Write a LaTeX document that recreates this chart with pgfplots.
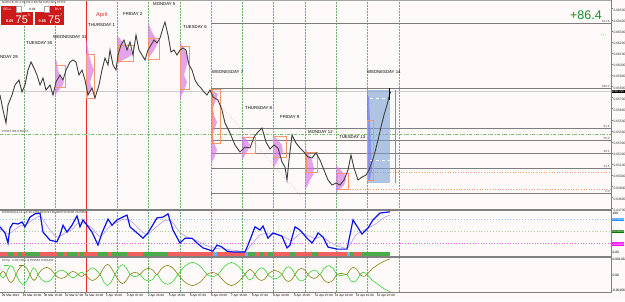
\documentclass[border=0pt]{standalone}
\usepackage{pgfplots}
\pgfplotsset{compat=1.18}
\usepackage{fontspec}
\setmainfont{Liberation Sans}
\definecolor{bg}{RGB}{255,250,250}
\definecolor{sepc}{RGB}{110,175,110}
\definecolor{pricec}{RGB}{65,65,65}
\definecolor{fibc}{RGB}{125,125,125}
\definecolor{boxc}{RGB}{245,150,110}
\definecolor{profc}{RGB}{215,115,228}
\definecolor{olivec}{RGB}{130,130,10}
\definecolor{greenc}{RGB}{50,210,50}
\definecolor{rsib}{RGB}{10,20,235}
\definecolor{rsis}{RGB}{185,155,230}
\definecolor{barr}{RGB}{242,95,95}
\definecolor{barg}{RGB}{75,170,75}
\definecolor{barb}{RGB}{110,175,240}
\definecolor{lvlb}{RGB}{150,195,250}
\definecolor{lvlg}{RGB}{160,205,150}
\definecolor{lvlm}{RGB}{235,100,235}
\definecolor{pivc}{RGB}{120,190,100}
\definecolor{orgd}{RGB}{245,155,110}
\definecolor{btnred}{RGB}{205,25,25}
\definecolor{bigg}{RGB}{25,140,40}
\definecolor{wedblue}{RGB}{120,160,210}
\definecolor{aprred}{RGB}{240,40,40}
\definecolor{boxblue}{RGB}{30,144,255}
\definecolor{boxgreen}{RGB}{0,120,0}
\definecolor{boxmag}{RGB}{255,0,255}
\definecolor{dcol}{RGB}{170,215,150}
\newcommand{\tf}{\fontsize{3.3}{3.8}\selectfont}
\newcommand{\df}{\fontsize{4.3}{5}\selectfont}
\newcommand{\xf}{\fontsize{3.1}{3.6}\selectfont}
\newcommand{\seg}[3]{\addplot[fill=#1, draw=none] coordinates {(#2,-9.5) (#3,-9.5) (#3,-0.5) (#2,-0.5)};}
\newcommand{\bx}[4]{\addplot[boxc, line width=0.6pt] coordinates {(#1,#2) (#3,#2) (#3,#4) (#1,#4) (#1,#2)};}
\begin{document}
\begin{tikzpicture}
\useasboundingbox (0pt,0pt) rectangle (625pt,-301pt);
\begin{scope}[x=1pt,y=1pt]
\fill[bg] (0,0) rectangle (625,-301);
\foreach \xx in {24,55,117,148,180,211,242,273,305,336,367,399} {\draw[sepc, densely dotted, line width=0.5pt] (\xx,0) -- (\xx,-292);}
\draw[aprred, line width=0.6pt] (86,0) -- (86,-292);
\end{scope}

% ================= MAIN PRICE PANEL =================
\begin{axis}[at={(0pt,0pt)}, anchor=north west, scale only axis, width=611pt, height=209pt,
  xmin=0, xmax=611, ymin=64697, ymax=66578, clip=false,
  axis line style={draw=none}, xtick=\empty,
  ytick={64700,64800,64900,65000,65100,65200,65300,65400,65500,65600,65700,65800,65900,66000,66100,66200,66300,66400,66500},
  yticklabels={0.64700,0.64800,0.64900,0.65000,0.65100,0.65200,0.65300,0.65400,0.65500,0.65600,0.65700,0.65800,0.65900,0.66000,0.66100,0.66200,0.66300,0.66400,0.66500},
  ytick pos=right, yticklabel pos=right, tick align=outside, major tick length=2pt,
  tick style={gray, line width=0.4pt},
  yticklabel style={font=\tf, inner sep=0.3pt, yshift=-1.5pt, text=black!80}]

\addplot[black!20, line width=0.5pt] coordinates {(0,65755) (611,65755)};
\addplot[pivc, line width=0.8pt, dash pattern=on 3pt off 1.5pt on 1pt off 1.5pt] coordinates {(0,65372) (611,65372)};
\addplot[fibc, line width=0.6pt] coordinates {(211,66371) (611,66371)};
\addplot[fibc, line width=0.6pt] coordinates {(211,65786) (611,65786)};
\addplot[fibc, line width=0.6pt] coordinates {(211,65426) (611,65426)};
\addplot[fibc, line width=0.6pt] coordinates {(211,65318) (611,65318)};
\addplot[fibc, line width=0.6pt] coordinates {(211,65201) (611,65201)};
\addplot[fibc, line width=0.6pt] coordinates {(211,65066) (611,65066)};
\addplot[fibc, line width=0.6pt] coordinates {(211,64841) (611,64841)};
\addplot[orgd, dotted, line width=0.6pt] coordinates {(367,65030) (611,65030)};
\addplot[orgd, dotted, line width=0.6pt] coordinates {(347,64877) (611,64877)};
\addplot[red!50, dotted, line width=0.5pt] coordinates {(213,65705) (300,64823)};

\addplot[fill=wedblue, fill opacity=0.6, draw=none] coordinates {(367,65768) (390,65768) (390,64931) (367,64931)};
\addplot[fill=blue!60, fill opacity=0.5, draw=none] coordinates {(367,65740) (369,65700) (370,65498) (371,65228) (372,65048) (370,64958) (367,64940)};
\addplot[white, dashed, line width=0.4pt] coordinates {(370,65696) (390,65696)};
\addplot[white, dashed, line width=0.4pt] coordinates {(370,65138) (390,65138)};
\addplot[greenc, line width=1pt] coordinates {(395,65768) (395,64931)};

\addplot[fill=profc, fill opacity=0.65, draw=none] coordinates {(55,66056) (57,66020) (58,65948) (61,65876) (64,65840) (62,65804) (59,65768) (56,65732) (55,65714)};
\addplot[fill=profc, fill opacity=0.65, draw=none] coordinates {(86,66218) (88,66146) (89,66083) (91,66020) (94,65948) (92,65894) (90,65840) (92,65786) (89,65741) (87,65696) (86,65678)};
\addplot[fill=profc, fill opacity=0.65, draw=none] coordinates {(117,66263) (121,66218) (126,66173) (131,66128) (132,66083) (127,66056) (121,66029) (117,66002)};
\addplot[fill=profc, fill opacity=0.65, draw=none] coordinates {(148,66380) (150,66335) (152,66290) (155,66245) (158,66200) (156,66155) (153,66110) (150,66074) (148,66038)};
\addplot[fill=profc, fill opacity=0.65, draw=none] coordinates {(180,66200) (183,66155) (186,66110) (188,66038) (186,65966) (184,65903) (187,65840) (185,65786) (182,65732) (180,65678)};
\addplot[fill=profc, fill opacity=0.65, draw=none] coordinates {(211,65768) (218,65732) (216,65678) (213,65606) (214,65543) (217,65480) (215,65426) (213,65363) (214,65300) (217,65228) (215,65174) (212,65120) (211,65093)};
\addplot[fill=profc, fill opacity=0.65, draw=none] coordinates {(242,65363) (247,65318) (250,65273) (248,65228) (245,65183) (242,65138)};
\addplot[fill=profc, fill opacity=0.65, draw=none] coordinates {(273,65363) (278,65318) (282,65273) (283,65210) (279,65156) (276,65102) (273,65066)};
\addplot[fill=profc, fill opacity=0.65, draw=none] coordinates {(305,65246) (309,65183) (312,65138) (314,65066) (313,65003) (310,64958) (308,64913) (305,64868)};
\addplot[fill=profc, fill opacity=0.65, draw=none] coordinates {(336,65093) (341,65048) (345,65003) (346,64958) (344,64913) (340,64877) (336,64850)};

\bx{55}{65993}{65}{65795}
\bx{86}{66092}{94}{65696}
\bx{118}{66173}{133}{66029}
\bx{148}{66236}{159}{66047}
\bx{180}{66164}{189}{65777}
\bx{212}{65777}{220}{65291}
\bx{243}{65345}{255}{65201}
\bx{273}{65354}{286}{65165}
\bx{306}{65210}{317}{65030}
\bx{337}{65021}{348}{64877}
\bx{367}{65498}{373}{64958}

\addplot[pricec, line width=0.9pt] coordinates {
(0,65723) (3,65588) (6,65471) (8,65633) (12,65723) (15,65813) (19,65858) (22,65750) (25,65813) (28,65948)
(31,66020) (34,65966) (37,65903) (40,65813) (43,65876) (46,65768) (50,65813) (53,65723) (56,65840) (60,65903)
(63,65858) (66,65948) (70,66020) (73,66038) (76,66020) (79,65903) (82,65948) (85,65858) (88,65723) (92,65786)
(95,65696) (99,65813) (102,65948) (105,66056) (108,65993) (110,66128) (113,65993) (116,65948) (118,66083) (121,66173)
(124,66218) (127,66128) (130,66200) (133,66083) (136,66263) (139,66128) (142,66083) (145,66038) (148,66128) (151,66173)
(154,66218) (157,66191) (160,66236) (163,66326) (165,66380) (168,66263) (171,66110) (174,66128) (177,66083) (180,66128)
(183,66146) (186,66128) (189,65993) (192,65948) (195,65858) (198,65813) (201,65786) (204,65750) (207,65723) (210,65768)
(213,65705) (218,65678) (222,65588) (225,65471) (230,65381) (235,65273) (240,65210) (245,65255) (250,65246) (254,65345)
(258,65390) (262,65426) (266,65300) (270,65237) (274,65273) (278,65246) (282,65120) (285,65075) (287,64958) (289,65138)
(292,65363) (296,65291) (300,65246) (304,65210) (308,65165) (312,65156) (316,65201) (320,65138) (324,65048) (328,64958)
(332,64913) (336,64931) (340,64913) (344,64958) (348,65048) (351,65183) (354,65066) (358,64958) (362,64985) (366,65003)
(369,65048) (372,65120) (375,65210) (378,65318) (381,65435) (384,65543) (387,65633) (390,65741) (391,65750)};
\addplot[black, line width=0.6pt] coordinates {(389,65786) (389,65678)};

\node[anchor=west, font=\df, inner sep=0pt] at (axis cs:-7,66065) {MONDAY 29};
\node[anchor=west, font=\df, inner sep=0pt] at (axis cs:26,66191) {TUESDAY 30};
\node[anchor=west, font=\df, inner sep=0pt] at (axis cs:53,66245) {WEDNESDAY 31};
\node[anchor=west, font=\df, inner sep=0pt] at (axis cs:88,66353) {THURSDAY 1};
\node[anchor=west, font=\fontsize{5.6}{6}\selectfont, text=aprred, inner sep=0pt] at (axis cs:96,66443) {April};
\node[anchor=west, font=\df, inner sep=0pt] at (axis cs:123,66452) {FRIDAY 2};
\node[anchor=west, font=\df, inner sep=0pt] at (axis cs:153,66542) {MONDAY 5};
\node[anchor=west, font=\df, inner sep=0pt] at (axis cs:183,66335) {TUESDAY 6};
\node[anchor=west, font=\df, inner sep=0pt] at (axis cs:212,65930) {WEDNESDAY 7};
\node[anchor=west, font=\df, inner sep=0pt] at (axis cs:245,65606) {THURSDAY 8};
\node[anchor=west, font=\df, inner sep=0pt] at (axis cs:280,65525) {FRIDAY 9};
\node[anchor=west, font=\df, inner sep=0pt] at (axis cs:308,65390) {MONDAY 12};
\node[anchor=west, font=\df, inner sep=0pt] at (axis cs:339,65345) {TUESDAY 13};
\node[anchor=west, font=\df, inner sep=0pt] at (axis cs:367,65930) {WEDNESDAY 14};
\node[anchor=west, font=\fontsize{3}{3.5}\selectfont, inner sep=0pt, text=black!80] at (axis cs:2,65395) {PIVOT W1 0.65372};

\node[anchor=south east, font=\fontsize{3}{3.5}\selectfont, inner sep=0.3pt, text=black!70] at (axis cs:610,66371) {161.8};
\node[anchor=south east, font=\fontsize{3}{3.5}\selectfont, inner sep=0.3pt, text=black!70] at (axis cs:610,65786) {100.0};
\node[anchor=south east, font=\fontsize{3}{3.5}\selectfont, inner sep=0.3pt, text=black!70] at (axis cs:610,65426) {61.8};
\node[anchor=south east, font=\fontsize{3}{3.5}\selectfont, inner sep=0.3pt, text=black!70] at (axis cs:610,65318) {50.0};
\node[anchor=south east, font=\fontsize{3}{3.5}\selectfont, inner sep=0.3pt, text=black!70] at (axis cs:610,65201) {38.2};
\node[anchor=south east, font=\fontsize{3}{3.5}\selectfont, inner sep=0.3pt, text=black!70] at (axis cs:610,65066) {23.6};
\node[anchor=south east, font=\fontsize{3}{3.5}\selectfont, inner sep=0.3pt, text=black!70] at (axis cs:610,64841) {0.0};

\node[anchor=base east, font=\fontsize{12.5}{14}\selectfont, text=bigg, inner sep=0pt] at (axis cs:602,66407) {+86.4};
\node[anchor=center, font=\fontsize{4}{5}\selectfont, text=dcol, inner sep=0pt] at (axis cs:604,66263) {D1};
\end{axis}

% ================= RSI PANEL =================
\begin{axis}[at={(0pt,-211pt)}, anchor=north west, scale only axis, width=611pt, height=45pt,
  xmin=0, xmax=611, ymin=-10, ymax=101, clip=false,
  axis line style={draw=none}, xtick=\empty, ytick=\empty]
\addplot[lvlb, dotted, line width=0.9pt] coordinates {(0,80) (611,80)};
\addplot[lvlg, dotted, line width=0.9pt] coordinates {(0,50) (611,50)};
\addplot[lvlm, dotted, line width=0.7pt] coordinates {(0,20) (611,20)};
\seg{barr}{0}{8}\seg{barg}{8}{13}\seg{barr}{13}{18}\seg{barg}{18}{22}\seg{barr}{22}{25}
\seg{barg}{25}{40}\seg{barr}{40}{57}\seg{barg}{57}{63}\seg{barr}{63}{67}\seg{barg}{67}{77}
\seg{barr}{77}{80}\seg{barg}{80}{83}\seg{barr}{83}{98}\seg{barg}{98}{108}\seg{barr}{108}{112}
\seg{barg}{112}{127}\seg{barr}{127}{143}\seg{barg}{143}{168}\seg{barr}{168}{213}\seg{barb}{213}{217}
\seg{barr}{217}{245}\seg{barb}{245}{248}\seg{barg}{248}{255}\seg{barr}{255}{260}\seg{barg}{260}{263}
\seg{barr}{263}{268}\seg{barg}{268}{273}\seg{barr}{273}{290}\seg{barg}{290}{295}\seg{barr}{295}{312}
\seg{barg}{312}{318}\seg{barr}{318}{347}\seg{barb}{347}{350}\seg{barg}{350}{353}\seg{barr}{353}{362}
\seg{barg}{362}{390}
\addplot[rsis, line width=0.6pt, smooth, tension=0.5] coordinates {
(0,57) (8,44) (13,52) (20,64) (25,66) (32,78) (40,88) (45,72) (52,48) (58,36) (65,47) (72,55) (78,71) (85,70)
(92,59) (100,38) (108,59) (115,71) (125,81) (132,74) (140,55) (147,43) (155,59) (165,78) (172,74) (180,48)
(188,36) (197,28) (205,17) (215,9) (225,7) (235,4) (245,2) (252,19) (260,42) (268,45) (276,43) (285,36)
(292,28) (300,45) (308,40) (316,33) (322,38) (330,24) (340,13) (348,11) (356,42) (365,55) (375,68) (383,83) (390,91)};
\addplot[rsib, line width=1.2pt] coordinates {
(0,62) (5,47) (8,22) (10,59) (13,71) (18,69) (22,74) (25,62) (30,86) (35,94) (40,96) (43,49) (50,29) (57,25)
(60,42) (63,66) (67,49) (72,66) (77,89) (80,62) (83,79) (87,66) (92,49) (98,17) (102,47) (108,81) (112,66)
(117,79) (127,91) (130,62) (137,47) (143,34) (148,47) (157,84) (163,86) (168,94) (173,54) (180,22) (185,34)
(192,34) (197,22) (203,10) (213,2) (217,17) (222,12) (227,2) (233,0) (245,0) (248,17) (255,62) (260,54)
(263,64) (268,34) (273,47) (282,39) (287,10) (290,17) (295,62) (300,54) (307,34) (312,22) (316,37) (318,47)
(323,37) (328,12) (337,7) (347,7) (350,42) (353,79) (362,44) (368,59) (373,79) (380,96) (390,99)};
\node[anchor=west, font=\fontsize{3}{3.5}\selectfont, inner sep=0pt, text=black!80] at (axis cs:2,97) {RSIOMA(14,14,14) 99.1362 90.8734 80.0000 50.0000 20.0000};
\end{axis}

% ================= CCFp PANEL =================
\begin{axis}[at={(0pt,-258pt)}, anchor=north west, scale only axis, width=611pt, height=34pt,
  xmin=0, xmax=611, ymin=-16, ymax=15, clip=false,
  axis line style={draw=none}, ytick=\empty,
  xtick={2,23,44,65,85,106,127,148,169,190,211,231,252,273,294,315,335,356,377},
  xticklabels={29 Mar 2021,29 Mar 23:00,30 Mar 15:00,31 Mar 07:00,31 Mar 23:00,1 Apr 15:00,2 Apr 07:00,2 Apr 23:00,5 Apr 15:00,6 Apr 07:00,6 Apr 23:00,7 Apr 15:00,8 Apr 07:00,8 Apr 23:00,9 Apr 15:00,12 Apr 07:00,12 Apr 23:00,13 Apr 15:00,14 Apr 07:00},
  xtick pos=left, tick align=outside, major tick length=1.5pt,
  tick style={gray, line width=0.4pt},
  xticklabel style={font=\xf, anchor=north west, inner sep=0.3pt, yshift=-0.6pt, xshift=-0.5pt}]
\addplot[greenc, line width=0.6pt, smooth, tension=0.5] coordinates {
(0,0) (1.5,-2.1) (3,-3) (4.5,-2.1) (6,0) (8.5,5.6) (11,8) (13.5,5.6) (16,0) (19.5,-6.3) (23,-9) (26.5,-6.3)
(30,0) (32,4.2) (34,6) (36,4.2) (38,0) (42,-4.9) (46.5,-7) (51,-4.9) (55,0) (58,2.8) (61.5,4) (65,2.8) (68,0)
(70.5,-2.1) (73,-3) (75.5,-2.1) (78,0) (80,1.4) (81.5,2) (83,1.4) (85,0) (89,4.2) (92.5,6) (96,4.2) (100,0)
(104,-7) (107.5,-10) (111,-7) (115,0) (119,6.3) (122.5,9) (126,6.3) (130,0) (132.5,-1.4) (135,-2) (137.5,-1.4)
(140,0) (144,-4.2) (148.5,-6) (153,-4.2) (157,0) (162,-6.3) (167.5,-9) (173,-6.3) (178,0) (185,7.7) (192.5,11)
(200,7.7) (207,0) (210,-1.4) (212.5,-2) (215,-1.4) (218,0) (225,7.7) (231.5,11) (238,7.7) (245,0) (247.5,-3.5)
(250,-5) (252.5,-3.5) (255,0) (258,4.2) (261.5,6) (265,4.2) (268,0) (271.5,-2.8) (275,-4) (278.5,-2.8) (282,0)
(285,4.9) (288.5,7) (292,4.9) (295,0) (298,-4.2) (301.5,-6) (305,-4.2) (308,0) (311,2.8) (314,4) (317,2.8)
(320,0) (324,5.6) (328.5,8) (333,5.6) (337,0) (342,-1) (347,0) (350,-4.9) (353.5,-7) (357,-4.9) (360,0)
(363.5,2) (367,0) (372,-5) (378,-9) (384,-13) (390,-15.6)};
\addplot[olivec, line width=0.6pt, smooth, tension=0.5] coordinates {
(0,0) (1.5,1.9) (3,2.8) (4.5,1.9) (6,0) (8.5,-5.2) (11,-7.4) (13.5,-5.2) (16,0) (19.5,5.8) (23,8.3) (26.5,5.8)
(30,0) (32,-3.9) (34,-5.5) (36,-3.9) (38,0) (42,4.5) (46.5,6.4) (51,4.5) (55,0) (58,-2.6) (61.5,-3.7) (65,-2.6)
(68,0) (70.5,1.9) (73,2.8) (75.5,1.9) (78,0) (80,-1.3) (81.5,-1.8) (83,-1.3) (85,0) (89,-3.9) (92.5,-5.5)
(96,-3.9) (100,0) (104,6.4) (107.5,9.2) (111,6.4) (115,0) (119,-5.8) (122.5,-8.3) (126,-5.8) (130,0)
(132.5,1.3) (135,1.8) (137.5,1.3) (140,0) (144,3.9) (148.5,5.5) (153,3.9) (157,0) (162,5.8) (167.5,8.3)
(173,5.8) (178,0) (185,-7.1) (192.5,-10.1) (200,-7.1) (207,0) (210,1.3) (212.5,1.8) (215,1.3) (218,0)
(225,-7.1) (231.5,-10.1) (238,-7.1) (245,0) (247.5,3.2) (250,4.6) (252.5,3.2) (255,0) (258,-3.9) (261.5,-5.5)
(265,-3.9) (268,0) (271.5,2.6) (275,3.7) (278.5,2.6) (282,0) (285,-4.5) (288.5,-6.4) (292,-4.5) (295,0)
(298,3.9) (301.5,5.5) (305,3.9) (308,0) (311,-2.6) (314,-3.7) (317,-2.6) (320,0) (324,-5.2) (328.5,-7.4)
(333,-5.2) (337,0) (342,0.9) (347,0) (350,4.5) (353.5,6.4) (357,4.5) (360,0) (363.5,-1.8) (367,0) (372,5)
(378,9) (384,12) (390,14.3)};
\node[anchor=west, font=\fontsize{3}{3.5}\selectfont, inner sep=0pt, text=black!80] at (axis cs:2,12.5) {CCFp - CHF NZD -0.001562 0.001432};
\addplot[greenc, line width=0.6pt] coordinates {(4,8) (9,8)};
\addplot[olivec, line width=0.6pt] coordinates {(19,8) (24,8)};
\end{axis}

\begin{scope}[x=1pt,y=1pt]
\draw[gray!70, line width=0.7pt] (0,-0.35) -- (611,-0.35);
\draw[gray, line width=1.6pt] (0,-210) -- (611,-210);
\draw[gray, line width=1.6pt] (0,-257) -- (611,-257);
\draw[gray, line width=0.7pt] (0,-292.5) -- (611,-292.5);
\draw[gray, line width=0.7pt] (611,0) -- (611,-292.5);

\node[fill=black, text=white, font=\tf, inner sep=0.5pt, anchor=west] at (611.4,-91.5) {0.65755};
\node[font=\tf, inner sep=0.3pt, anchor=west] at (612,-213.2) {100};
\node[fill=boxblue, text=white, font=\tf, inner sep=0.4pt, anchor=west] at (611.4,-219.5) {80.0000};
\node[fill=boxgreen, text=white, font=\tf, inner sep=0.4pt, anchor=west] at (611.4,-231.8) {50.0000};
\node[fill=boxmag, text=white, font=\tf, inner sep=0.4pt, anchor=west] at (611.4,-244) {20.0000};
\node[font=\tf, inner sep=0.3pt, anchor=west] at (612,-252) {0.00};
\node[font=\tf, inner sep=0.3pt, anchor=west] at (612,-259.8) {0.001432};
\node[font=\tf, inner sep=0.3pt, anchor=west] at (612,-275.5) {0.00};
\node[font=\tf, inner sep=0.3pt, anchor=west] at (611.5,-290.5) {-0.001562};

\node[anchor=west, font=\fontsize{3}{3.5}\selectfont, inner sep=0pt, text=black!80] at (2,-2.8) {NZDCHF,H1  0.65734 0.65758 0.65728 0.65755};
\fill[btnred] (1,-5.5) rectangle (32.5,-25);
\fill[btnred] (34.5,-5.5) rectangle (63.5,-25);
\fill[white] (16,-6.2) rectangle (49,-12);
\draw[gray!70, line width=0.3pt] (16,-6.2) rectangle (21,-12);
\draw[gray!70, line width=0.3pt] (44,-6.2) rectangle (49,-12);
\node[font=\fontsize{3.2}{3.5}\selectfont, inner sep=0pt] at (32.5,-9.1) {0.01};
\node[anchor=west, font=\fontsize{3.4}{3.8}\selectfont, text=white, inner sep=0pt] at (3,-9.1) {SELL};
\node[anchor=east, font=\fontsize{3.4}{3.8}\selectfont, text=white, inner sep=0pt] at (62,-9.1) {BUY};
\node[anchor=base west, font=\fontsize{3.8}{4}\selectfont\bfseries, text=white, inner sep=0pt] at (6,-22) {0.65};
\node[anchor=base west, font=\fontsize{11}{12}\selectfont, text=white, inner sep=0pt] at (15.5,-23) {75};
\node[anchor=base west, font=\fontsize{3.6}{4}\selectfont, text=white, inner sep=0pt] at (28,-16.5) {5};
\node[anchor=base west, font=\fontsize{3.8}{4}\selectfont\bfseries, text=white, inner sep=0pt] at (38.5,-22) {0.65};
\node[anchor=base west, font=\fontsize{11}{12}\selectfont, text=white, inner sep=0pt] at (48,-23) {75};
\node[anchor=base west, font=\fontsize{3.6}{4}\selectfont, text=white, inner sep=0pt] at (60,-16.5) {7};
\end{scope}
\end{tikzpicture}
\end{document}
